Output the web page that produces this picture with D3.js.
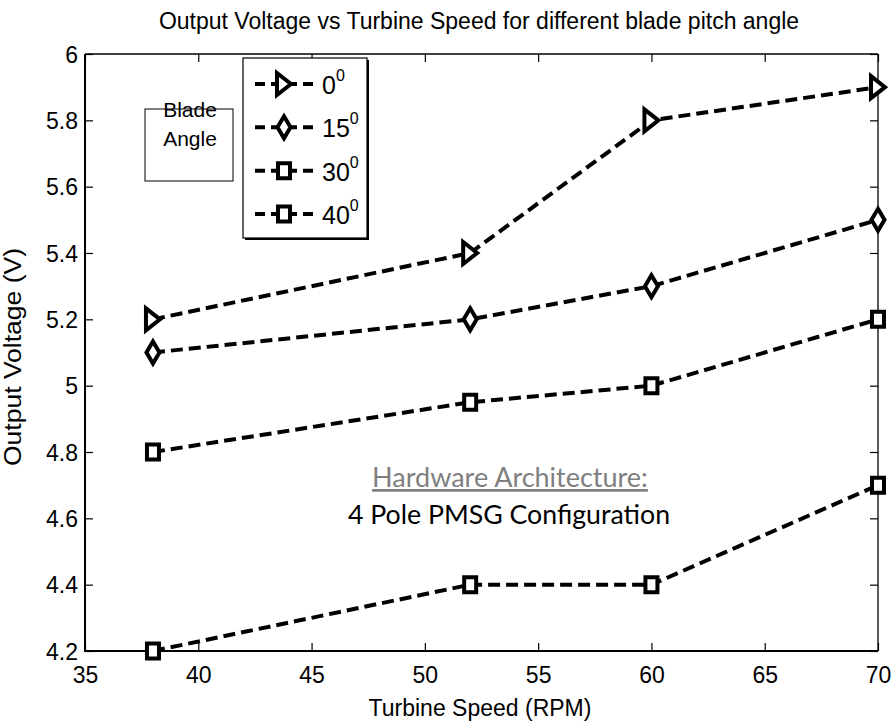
<!DOCTYPE html>
<html><head><meta charset="utf-8">
<script src="https://cdn.jsdelivr.net/npm/d3@7"></script>
<style>
html,body{margin:0;padding:0;background:#fff;}
svg{display:block;}
</style></head>
<body>
<svg id="chart" width="892" height="724"></svg>
<script>
const speeds = [38, 52, 60, 70];
const seriesNames = ["0", "15", "30", "40"];
const seriesMarkers = ["triangle", "diamond", "square", "square"];
const v0 = [5.2, 5.4, 5.8, 5.9];
const v15 = [5.1, 5.2, 5.3, 5.5];
const v30 = [4.8, 4.95, 5.0, 5.2];
const v40 = [4.2, 4.4, 4.4, 4.7];
const xTicks = [35, 40, 45, 50, 55, 60, 65, 70];
const yTicks = [4.2, 4.4, 4.6, 4.8, 5, 5.2, 5.4, 5.6, 5.8, 6];
const titleText = "Output Voltage vs Turbine Speed for different blade pitch angle";
const xLabel = "Turbine Speed (RPM)";
const yLabel = "Output Voltage (V)";
const noteTitle = "Hardware Architecture:";
const noteBody = "4 Pole PMSG Configuration";
const boxLines = ["Blade", "Angle"];

const series = [v0, v15, v30, v40].map((vals, i) => ({
  name: seriesNames[i], marker: seriesMarkers[i],
  points: vals.map((v, j) => ({x: speeds[j], y: v}))
}));

const SANS = "'Liberation Sans', Arial, sans-serif";
const CAL = "Lato, 'Open Sans', sans-serif";
const L = 85, R = 878, T = 54, B = 651;
const svg = d3.select("#chart");
const x = d3.scaleLinear().domain([35, 70]).range([L, R]);
const y = d3.scaleLinear().domain([4.2, 6]).range([B, T]);

function markerPath(type) {
  if (type === "triangle") { const w = 14, h = 22; return `M${-w/2},${-h/2}L${w/2},0L${-w/2},${h/2}Z`; }
  if (type === "diamond") { const w = 13, h = 22; return `M0,${-h/2}L${w/2},0L0,${h/2}L${-w/2},0Z`; }
  const w = 12, h = 15; return `M${-w/2},${-h/2}H${w/2}V${h/2}H${-w/2}Z`;
}

// axes with inward ticks
const tickLen = 8;
const gBottom = svg.append("g").attr("transform", `translate(0,${B})`)
  .call(d3.axisBottom(x).tickValues(xTicks).tickSizeInner(-tickLen).tickSizeOuter(0).tickPadding(15).tickFormat(d3.format("d")));
const gTop = svg.append("g").attr("transform", `translate(0,${T})`)
  .call(d3.axisTop(x).tickValues(xTicks).tickSizeInner(-tickLen).tickSizeOuter(0).tickFormat(""));
const gLeft = svg.append("g").attr("transform", `translate(${L},0)`)
  .call(d3.axisLeft(y).tickValues(yTicks).tickSizeInner(-tickLen).tickSizeOuter(0).tickPadding(7).tickFormat(d => d3.format("")(d)));
const gRight = svg.append("g").attr("transform", `translate(${R},0)`)
  .call(d3.axisRight(y).tickValues(yTicks).tickSizeInner(-tickLen).tickSizeOuter(0).tickFormat(""));
[gBottom, gTop, gLeft, gRight].forEach(g => {
  g.selectAll(".domain").remove();
  g.selectAll(".tick line").attr("stroke", "#000").attr("stroke-width", 1.2);
  g.selectAll("text").style("font-size", "23px").style("font-family", SANS).attr("fill", "#000");
});
gLeft.selectAll(".tick text").attr("dy", "0.36em");
gBottom.selectAll(".tick text").attr("dy", "0.73em");

// frame
svg.append("line").attr("x1", L).attr("x2", R).attr("y1", T).attr("y2", T).attr("stroke", "#000").attr("stroke-width", 1.3);
svg.append("line").attr("x1", R).attr("x2", R).attr("y1", T).attr("y2", B).attr("stroke", "#000").attr("stroke-width", 1.3);
svg.append("line").attr("x1", L).attr("x2", L).attr("y1", T).attr("y2", B + 1).attr("stroke", "#000").attr("stroke-width", 2);
svg.append("line").attr("x1", L).attr("x2", R).attr("y1", B).attr("y2", B).attr("stroke", "#000").attr("stroke-width", 2);

// series
const line = d3.line().x(d => x(d.x)).y(d => y(d.y));
const gS = svg.append("g");
series.forEach(s => {
  gS.append("path").datum(s.points).attr("d", line).attr("fill", "none")
    .attr("stroke", "#000").attr("stroke-width", 4).attr("stroke-dasharray", "12,6");
});
series.forEach(s => {
  gS.selectAll(null).data(s.points).enter().append("path")
    .attr("d", markerPath(s.marker)).attr("transform", d => `translate(${x(d.x)},${y(d.y)})`)
    .attr("fill", "#fff").attr("stroke", "#000").attr("stroke-width", 4).attr("stroke-linejoin", "miter");
});

// title & axis labels
svg.append("text").attr("x", 479).attr("y", 29).attr("text-anchor", "middle")
  .style("font-family", SANS).style("font-size", "23px").text(titleText);
svg.append("text").attr("x", 480).attr("y", 716).attr("text-anchor", "middle")
  .style("font-family", SANS).style("font-size", "23px").text(xLabel);
svg.append("text").attr("transform", "translate(21,357) rotate(-90)").attr("text-anchor", "middle")
  .style("font-family", SANS).style("font-size", "23px")
  .attr("textLength", 218).attr("lengthAdjust", "spacingAndGlyphs").text(yLabel);

// Blade Angle box
svg.append("rect").attr("x", 145).attr("y", 109).attr("width", 88).attr("height", 72)
  .attr("fill", "none").attr("stroke", "#000").attr("stroke-width", 1);
boxLines.forEach((t, i) => {
  svg.append("text").attr("x", 190).attr("y", 117 + i * 29).attr("text-anchor", "middle")
    .style("font-family", SANS).style("font-size", "21px").text(t);
});

// Legend
const lg = svg.append("g");
lg.append("rect").attr("x", 245).attr("y", 60).attr("width", 124).attr("height", 180).attr("fill", "#000");
lg.append("rect").attr("x", 243).attr("y", 58).attr("width", 124).attr("height", 180).attr("fill", "#fff").attr("stroke", "#000").attr("stroke-width", 1.2);
const legendY = d3.scalePoint().domain(seriesNames).range([84, 214]);
series.forEach(s => {
  const yy = legendY(s.name);
  lg.append("line").attr("x1", 255).attr("x2", 314).attr("y1", yy).attr("y2", yy)
    .attr("stroke", "#000").attr("stroke-width", 4).attr("stroke-dasharray", "10,6");
  lg.append("path").attr("d", markerPath(s.marker)).attr("transform", `translate(284,${yy})`)
    .attr("fill", "#fff").attr("stroke", "#000").attr("stroke-width", 4);
  const t = lg.append("text").attr("x", 322).attr("y", yy + 10).style("font-family", SANS).style("font-size", "25px");
  t.append("tspan").text(s.name);
  t.append("tspan").style("font-size", "16px").attr("dy", -13).text("0");
});

// Annotation
svg.append("text").attr("x", 510).attr("y", 487).attr("text-anchor", "middle")
  .style("font-family", CAL).style("font-size", "27px").attr("fill", "#7f7f7f")
  .style("text-decoration", "underline").text(noteTitle);
svg.append("text").attr("x", 509).attr("y", 524).attr("text-anchor", "middle")
  .style("font-family", CAL).style("font-size", "26.7px").attr("fill", "#000").text(noteBody);
</script>
</body></html>
